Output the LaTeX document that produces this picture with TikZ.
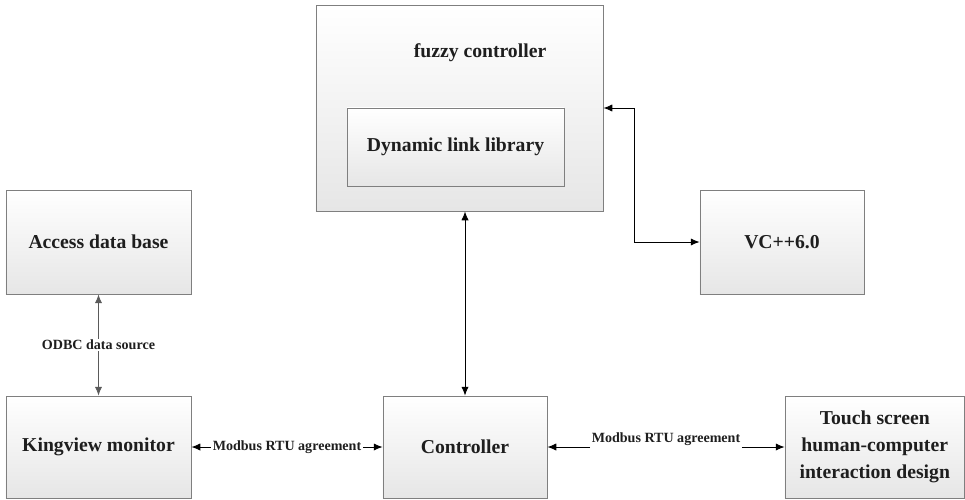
\documentclass[tikz,border=0pt]{standalone}
\usepackage{fontspec}
\setmainfont{Liberation Serif}
\usetikzlibrary{arrows.meta}
\definecolor{boxline}{HTML}{7F7F7F}
\definecolor{boxtext}{HTML}{1E1E1E}
\definecolor{boxshade}{HTML}{E6E6E6}
\definecolor{odbcline}{HTML}{5A5A5A}

\begin{document}
\begin{tikzpicture}[x=0.025cm,y=-0.025cm,
    block/.style={draw=boxline,line width=0.6pt,top color=white,bottom color=boxshade,
      inner sep=0pt,text=boxtext,align=center,font=\fontsize{14}{19}\selectfont\bfseries},
    link/.style={line width=0.6pt,{Latex[length=2.2mm,width=1.8mm]}-{Latex[length=2.2mm,width=1.8mm]}},
    tag/.style={fill=white,inner sep=1pt,text=boxtext,font=\fontsize{10}{12}\selectfont\bfseries}]
    \useasboundingbox (0,0) rectangle (965,499);

    % upper part
    \node [block,minimum width=7.175cm,minimum height=5.15cm] (fuzzy) at (459.5,108) {};
    \node [text=boxtext,font=\fontsize{14}{17}\selectfont\bfseries] (fuzzyname) at (480,53) {fuzzy controller};
    \node [block,minimum width=5.425cm,minimum height=1.95cm] (dll) at (455.5,147) {Dynamic link library};
    \node [block,minimum width=4.1cm,minimum height=2.6cm] (vc) at (782,242) {VC++6.0};
    \node [block,minimum width=4.625cm,minimum height=2.6cm] (access) at (98.5,242) {Access data base};

    % lower row
    \node [block,minimum width=4.625cm,minimum height=2.55cm] (king) at (98.5,447) {Kingview monitor};
    \node [block,minimum width=4.1cm,minimum height=2.55cm] (ctrl) at (465,447) {Controller};
    \node [block,minimum width=4.4875cm,minimum height=2.55cm] (touch) at (874.75,447) {Touch screen\\human-computer\\interaction design};

    % connectors
    \draw [link] (fuzzy.east) -- ++(31,0) |- (vc.west);
    \draw [link] (ctrl.north) -- (ctrl.north |- fuzzy.south);
    \draw [link,draw=odbcline] (access) -- node [tag] {ODBC data source} (king);
    \draw [link] (king) -- node [tag] {Modbus RTU agreement} (ctrl);
    \node [tag] (modbus) at (666,439) {Modbus RTU agreement};
    \draw [line width=0.6pt,-{Latex[length=2.2mm,width=1.8mm]}] (modbus.west |- ctrl.east) -- (ctrl.east);
    \draw [line width=0.6pt,-{Latex[length=2.2mm,width=1.8mm]}] (modbus.east |- touch.west) -- (touch.west);
\end{tikzpicture}
\end{document}
